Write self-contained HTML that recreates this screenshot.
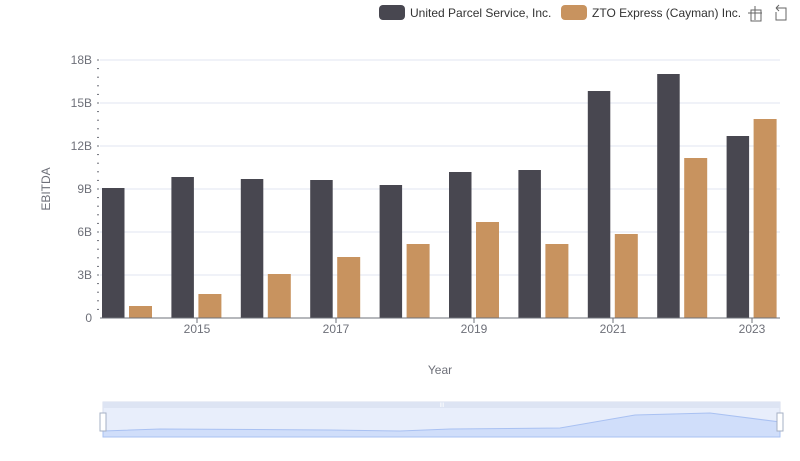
<!DOCTYPE html>
<html><head><meta charset="utf-8"><style>
html,body{margin:0;padding:0;background:#fff;}
svg{display:block;font-family:"Liberation Sans",sans-serif;}
</style></head><body>
<svg id="s" width="800" height="461" viewBox="0 0 800 461" xmlns="http://www.w3.org/2000/svg">
<rect width="800" height="461" fill="#fff"/>
<g id="grid"></g>
<g id="bars"></g>
<line x1="100" y1="318" x2="780" y2="318" stroke="#6e7079" stroke-width="1"/>
<g font-size="12" fill="#6e7079" text-anchor="end">
<text x="92" y="64">18B</text><text x="92" y="107">15B</text><text x="92" y="150">12B</text>
<text x="92" y="193">9B</text><text x="92" y="236">6B</text><text x="92" y="279">3B</text><text x="92" y="322">0</text>
</g>
<g font-size="12" fill="#6e7079" text-anchor="middle">
<text x="197" y="333">2015</text><text x="336" y="333">2017</text><text x="474" y="333">2019</text>
<text x="613" y="333">2021</text><text x="752" y="333">2023</text>
</g>
<g stroke="#6e7079"><line x1="197" y1="318" x2="197" y2="323"/><line x1="336" y1="318" x2="336" y2="323"/><line x1="474" y1="318" x2="474" y2="323"/><line x1="613" y1="318" x2="613" y2="323"/><line x1="752" y1="318" x2="752" y2="323"/></g>
<text x="50" y="189" font-size="12" fill="#6e7079" text-anchor="middle" transform="rotate(-90 50 189)">EBITDA</text>
<text x="440" y="374" font-size="12" fill="#6e7079" text-anchor="middle">Year</text>
<!-- legend -->
<rect x="379" y="5" width="26" height="15" rx="4" fill="#484750"/>
<text x="410" y="17" font-size="12" fill="#333">United Parcel Service, Inc.</text>
<rect x="561" y="5" width="26" height="15" rx="4" fill="#c8935f"/>
<text x="592" y="17" font-size="12" fill="#333">ZTO Express (Cayman) Inc.</text>
<g stroke="#666" fill="none" stroke-width="1">
<path d="M748 13h14M755 6v14M751 10h10v11h-10z"/>
<path d="M776 8l3-3M776 8l3 3M776 8h10v12h-10v-8"/>
</g>
<!-- slider -->
<rect x="103" y="402" width="677" height="35" fill="#e8eefb" stroke="#d7deee"/>
<rect x="103" y="402" width="677" height="6" fill="#dde4f3"/>
<path d="M103,431 L160,429 L330,430 L400,431 L450,429 L560,428 L635,415 L710,413 L780,422 L780,437 L103,437Z" fill="#d0defa" stroke="#a9c1f2" stroke-width="1"/>
<rect x="100" y="413" width="6" height="18" fill="#fff" stroke="#a6b0c4"/>
<rect x="777" y="413" width="6" height="18" fill="#fff" stroke="#a6b0c4"/>
<text x="442" y="407" font-size="6" fill="#fff" text-anchor="middle">III</text>
</svg>
<script>
var g=document.getElementById('grid'),b=document.getElementById('bars'),h='';
[60,103,146,189,232,275].forEach(function(y){h+='<line x1="100" y1="'+y+'" x2="780" y2="'+y+'" stroke="#e0e6f1"/>';});
for(var y=60;y<318;y+=8.6){h+='<line x1="97" y1="'+y.toFixed(1)+'" x2="99" y2="'+y.toFixed(1)+'" stroke="#6e7079"/>';}
g.innerHTML=h;
var u=[188,177,179,180,185,172,170,91,74,136],z=[306,294,274,257,244,222,244,234,158,119],s='';
for(var i=0;i<10;i++){var x=102+i*69.4;
s+='<rect x="'+x+'" y="'+u[i]+'" width="22.5" height="'+(318-u[i])+'" fill="#484750"/>';
s+='<rect x="'+(x+27)+'" y="'+z[i]+'" width="23" height="'+(318-z[i])+'" fill="#c8935f"/>';}
b.innerHTML=s;
</script>
</body></html>
